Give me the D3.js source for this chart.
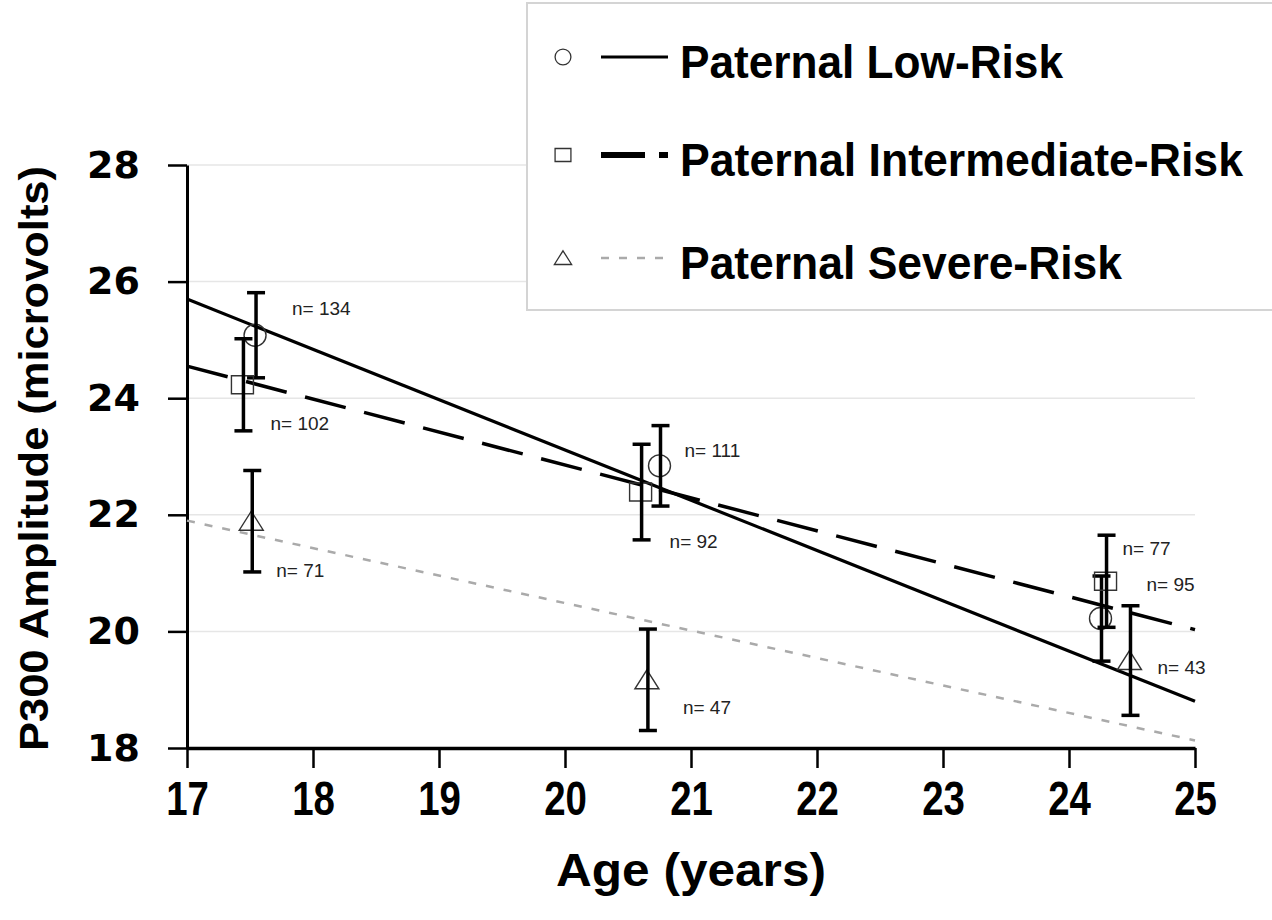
<!DOCTYPE html>
<html>
<head>
<meta charset="utf-8">
<script src="https://cdn.jsdelivr.net/npm/d3@7/dist/d3.min.js"></script>
<style>
	body { margin: 0; background: #fff; }
	svg { display: block; }
</style>
</head>
<body>
<div id="chart"></div>
<script>
// values
var groups = ["Paternal Low-Risk", "Paternal Intermediate-Risk", "Paternal Severe-Risk"];

var lowAge = [17.54, 20.75, 24.25]
	, lowMean = [25.08, 22.84, 20.22]
	, lowErr = [0.73, 0.69, 0.73]
	, lowN = [134, 111, 95];

var interAge = [17.44, 20.60, 24.29]
	, interMean = [24.23, 22.39, 20.86]
	, interErr = [0.79, 0.82, 0.79]
	, interN = [102, 92, 77];

var severeAge = [17.51, 20.65, 24.48]
	, severeMean = [21.89, 19.17, 19.50]
	, severeErr = [0.87, 0.87, 0.94]
	, severeN = [71, 47, 43];

// regression lines, value at age 17 and at age 25
var fitAges = [17, 25]
	, lowFit = [25.70, 18.80]
	, interFit = [24.55, 20.03]
	, severeFit = [21.90, 18.13];

var xTicks = [17, 18, 19, 20, 21, 22, 23, 24, 25]
	, yTicks = [18, 20, 22, 24, 26, 28];

var W = 1272, H = 920
	, margin = {left: 187, right: 77, top: 165, bottom: 172};

var svg = d3.select("#chart").append("svg")
	.attr("width", W).attr("height", H);

var x = d3.scaleLinear().domain([17, 25]).range([margin.left, W - margin.right]);
var y = d3.scaleLinear().domain([18, 28]).range([H - margin.bottom, margin.top]);

// --- GRID --- \\
svg.append("g").selectAll("line").data(yTicks.slice(1))
	.enter().append("line")
	.attr("x1", x(17)).attr("x2", x(25))
	.attr("y1", y).attr("y2", y)
	.attr("stroke", "#e6e6e6").attr("stroke-width", 1.5);

// --- LEGEND BOX (drawn early, lines pass under it) --- \\
svg.append("rect")
	.attr("x", 527).attr("y", 3).attr("width", 800).attr("height", 307)
	.attr("fill", "#fff").attr("stroke", "#d4d4d4").attr("stroke-width", 2);

// --- AXES --- \\
var yAxis = svg.append("g")
	.attr("transform", "translate(" + margin.left + ",0)")
	.call(d3.axisLeft(y).tickValues(yTicks).tickSize(19).tickPadding(28).tickSizeOuter(0));
yAxis.select(".domain").attr("stroke", "#000").attr("stroke-width", 3);
yAxis.selectAll(".tick line").attr("stroke", "#000").attr("stroke-width", 2.5);
yAxis.selectAll(".tick text")
	.attr("font-family", "DejaVu Sans").attr("font-weight", "bold")
	.attr("font-size", 38).attr("fill", "#000");

var xAxis = svg.append("g")
	.attr("transform", "translate(0," + y(18) + ")")
	.call(d3.axisBottom(x).tickValues(xTicks).tickSize(20).tickPadding(0).tickSizeOuter(0));
xAxis.select(".domain").attr("stroke", "#000").attr("stroke-width", 3.5);
xAxis.selectAll(".tick line").attr("stroke", "#000").attr("stroke-width", 2.5);
xAxis.selectAll(".tick text").remove();
xAxis.selectAll(".tick").append("text")
	.attr("transform", "translate(0,67) scale(0.8,1)")
	.attr("text-anchor", "middle")
	.attr("font-family", "Liberation Sans, Arial, sans-serif").attr("font-weight", "bold")
	.attr("font-size", 48).attr("fill", "#000")
	.text(function(d) { return d; });

// axis titles
svg.append("text")
	.attr("x", x(21)).attr("y", 886)
	.attr("text-anchor", "middle")
	.attr("font-family", "Liberation Sans, Arial, sans-serif").attr("font-weight", "bold")
	.attr("font-size", 46)
	.attr("textLength", 270).attr("lengthAdjust", "spacingAndGlyphs")
	.text("Age (years)");

svg.append("text")
	.attr("transform", "translate(48," + ((y(18) + y(28)) / 2 + 2) + ") rotate(-90)")
	.attr("text-anchor", "middle")
	.attr("font-family", "Liberation Sans, Arial, sans-serif").attr("font-weight", "bold")
	.attr("font-size", 40)
	.attr("textLength", 585).attr("lengthAdjust", "spacingAndGlyphs")
	.text("P300 Amplitude (microvolts)");

// --- SERIES --- \\
var series = [
	{name: groups[0], age: lowAge, mean: lowMean, err: lowErr, n: lowN, fit: lowFit, shape: "circle"
		, stroke: "#000", width: 3.2, dash: null}
	, {name: groups[1], age: interAge, mean: interMean, err: interErr, n: interN, fit: interFit, shape: "square"
		, stroke: "#000", width: 3.5, dash: "42,19"}
	, {name: groups[2], age: severeAge, mean: severeMean, err: severeErr, n: severeN, fit: severeFit, shape: "triangle"
		, stroke: "#aaa", width: 2.5, dash: "8,10"}
];

// label offsets in pixels from each point
var labelOffsets = [
	[[37, -20], [25, -9], [46, -28]]
	, [[28, 45], [29, 56], [17, -26]]
	, [[25, 56], [36, 34], [28, 13]]
];

function markerPath(shape) {
	if (shape === "circle") return "M-11,0a11,11 0 1,0 22,0a11,11 0 1,0 -22,0Z";
	if (shape === "square") return "M-11,-9H11V9H-11Z";
	return "M0,-10L12,9H-12Z";
}

// fit lines
series.forEach(function(s) {
	svg.append("line")
		.attr("x1", x(fitAges[0])).attr("y1", y(s.fit[0]))
		.attr("x2", x(fitAges[1])).attr("y2", y(s.fit[1]))
		.attr("stroke", s.stroke).attr("stroke-width", s.width)
		.attr("stroke-dasharray", s.dash);
});

series.forEach(function(s, si) {
	var pts = s.age.map(function(a, i) {
		return {age: a, mean: s.mean[i], err: s.err[i], n: s.n[i], off: labelOffsets[si][i]};
	});
	var g = svg.append("g");

	// markers
	g.selectAll(".mk").data(pts).enter().append("path")
		.attr("d", markerPath(s.shape))
		.attr("transform", function(d) { return "translate(" + x(d.age) + "," + y(d.mean) + ")"; })
		.attr("fill", "none").attr("stroke", "#333").attr("stroke-width", 1.4);

	// error bars
	var eb = g.selectAll(".eb").data(pts).enter().append("g")
		.attr("stroke", "#000").attr("stroke-width", 3.5);
	eb.append("line")
		.attr("x1", function(d) { return x(d.age) + 1; }).attr("x2", function(d) { return x(d.age) + 1; })
		.attr("y1", function(d) { return y(d.mean + d.err); })
		.attr("y2", function(d) { return y(d.mean - d.err); });
	eb.selectAll(".cap").data(function(d) { return [d.mean + d.err, d.mean - d.err].map(function(v) { return {age: d.age, v: v}; }); })
		.enter().append("line")
		.attr("x1", function(d) { return x(d.age) - 8; }).attr("x2", function(d) { return x(d.age) + 10; })
		.attr("y1", function(d) { return y(d.v); }).attr("y2", function(d) { return y(d.v); });

	// n labels
	g.selectAll(".nl").data(pts).enter().append("text")
		.attr("x", function(d) { return x(d.age) + d.off[0]; })
		.attr("y", function(d) { return y(d.mean) + d.off[1]; })
		.attr("font-family", "Liberation Sans, Arial, sans-serif").attr("font-size", 19).attr("fill", "#222")
		.text(function(d) { return "n= " + d.n; });
});

// --- LEGEND --- \\
var legY = [57, 155, 258];
var leg = svg.append("g").selectAll("g").data(series).enter().append("g")
	.attr("transform", function(d, i) { return "translate(0," + legY[i] + ")"; });
leg.append("path")
	.attr("d", function(d) { return markerPath(d.shape); })
	.attr("transform", "translate(563,0) scale(0.72)")
	.attr("fill", "none").attr("stroke", "#333").attr("stroke-width", 1.8);
leg.append("line")
	.attr("x1", 601).attr("x2", 668).attr("y1", 0).attr("y2", 0)
	.attr("stroke", function(d) { return d.stroke; })
	.attr("stroke-width", function(d) { return d.shape === "square" ? 6 : d.width; })
	.attr("stroke-dasharray", function(d) { return d.shape === "square" ? "44,14,10" : (d.shape === "triangle" ? "8,10" : null); });
var legW = [383, 563, 442];
leg.append("text")
	.attr("x", 680).attr("y", 21)
	.attr("font-family", "Liberation Sans, Arial, sans-serif").attr("font-weight", "bold")
	.attr("font-size", 47)
	.attr("textLength", function(d, i) { return legW[i]; }).attr("lengthAdjust", "spacingAndGlyphs")
	.text(function(d) { return d.name; });
</script>
</body>
</html>
